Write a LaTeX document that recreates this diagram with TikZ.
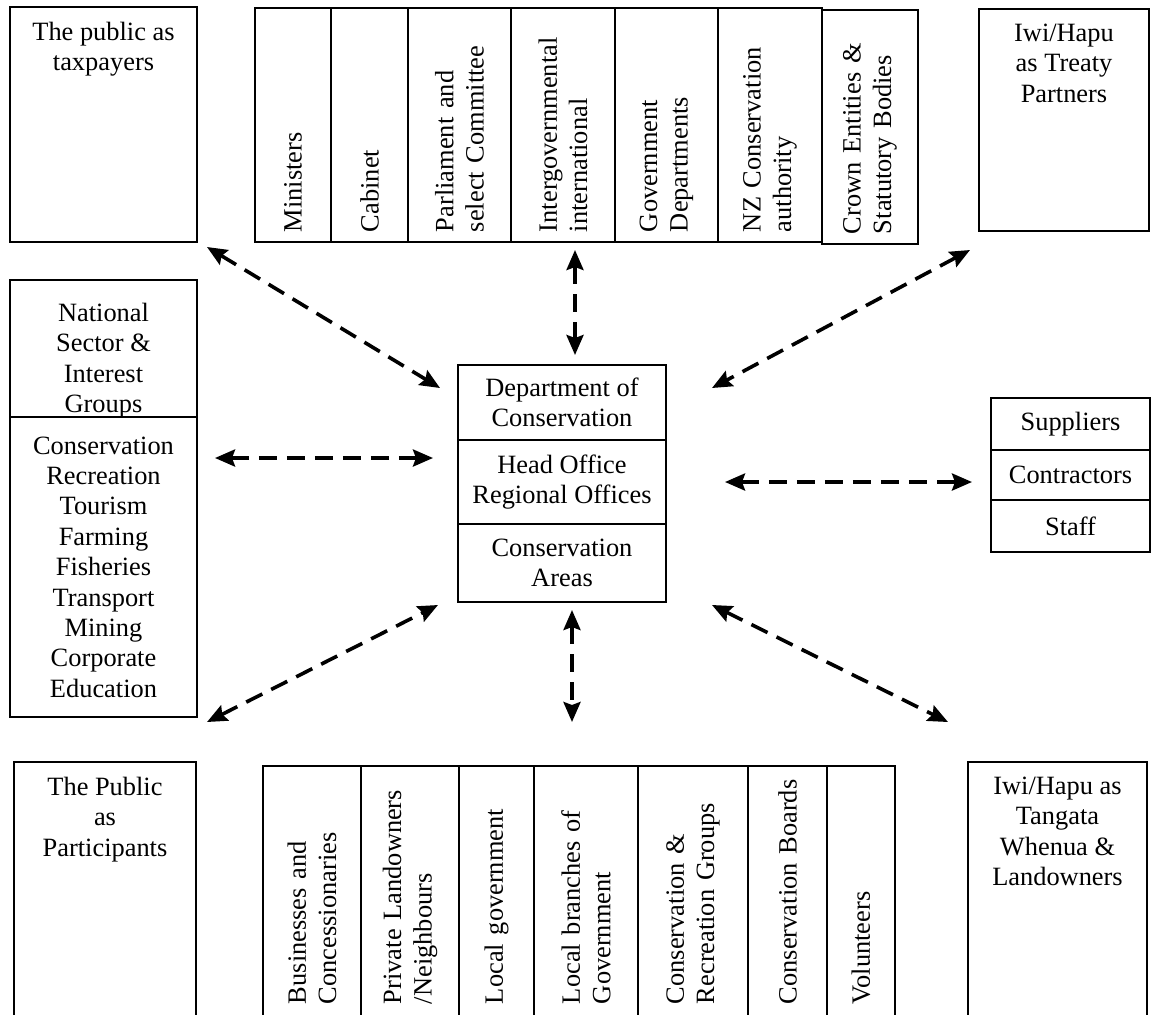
\documentclass[tikz,border=0pt]{standalone}
\usepackage{fontspec}
\setmainfont{Liberation Serif}
\usetikzlibrary{positioning, arrows.meta}

\tikzset{
  box/.style={draw, line width=0.9pt, outer sep=0pt, inner sep=2pt, align=center},
  toplabel/.style={label={[anchor=north, align=center, yshift=-4pt]north:#1}},
  cell/.style={box, rotate=90, align=left, inner xsep=5pt, inner ysep=0pt,
    minimum width=117pt, text width=107pt},
  lowcell/.style={box, rotate=90, align=left, inner xsep=6pt, inner ysep=0pt,
    minimum width=125pt, text width=113pt},
  link/.style={{Stealth[length=10pt,width=8.5pt,inset=1.5pt]}-{Stealth[length=10pt,width=8.5pt,inset=1.5pt]},
    line width=1.8pt, dash pattern=on 9pt off 5pt},
}

\begin{document}
\begin{tikzpicture}[x=0.5pt, y=-0.5pt, font=\fontsize{13.2}{15.2}\selectfont]
\useasboundingbox (0,0) rectangle (1152,1014);

% corners
\node[box, minimum width=93.5pt, minimum height=117.5pt, toplabel={The public as\\taxpayers}] (taxpayers) at (103.5,124.5) {};
\node[box, minimum width=85pt, minimum height=111pt, toplabel={Iwi/Hapu\\as Treaty\\Partners}] (treaty) at (1064,120) {};
\node[box, minimum width=91pt, minimum height=134pt, toplabel={The Public\\as\\Participants}] (participants) at (105,896) {};
\node[box, minimum width=89.5pt, minimum height=134pt, toplabel={Iwi/Hapu as\\Tangata\\Whenua \&\\Landowners}] (whenua) at (1057.5,896) {};

% government strip
\node[cell, minimum height=38pt] (ministers) at (293,125) {Ministers};
\node[cell, minimum height=38.5pt] (cabinet) at (369.5,125) {Cabinet};
\node[cell, minimum height=51.5pt] (parliament) at (459.5,125) {Parliament and\\select Committee};
\node[cell, minimum height=52pt] (intergov) at (563,125) {Intergovernmental\\international};
\node[cell, minimum height=51.5pt] (govdept) at (666.5,125) {Government\\Departments};
\node[cell, minimum height=52pt] (nzca) at (770,125) {NZ Conservation\\authority};
\node[cell, minimum height=48pt] (crown) at (870,127) {Crown Entities \&\\Statutory Bodies};

% sector groups (last line runs into the box below)
\node[box, minimum width=93.5pt, minimum height=68.5pt,
  label={[anchor=north, align=center, yshift=-8pt]north:National\\Sector \&\\Interest\\Groups}] (national) at (103.5,348.5) {};
\node[box, fill=white, minimum width=93.5pt, minimum height=150pt, below=0pt of national] (sectors)
  {Conservation\\Recreation\\Tourism\\Farming\\Fisheries\\Transport\\Mining\\Corporate\\Education};

% department
\node[box, minimum width=104pt, minimum height=37.5pt] (doc) at (562,402.5) {Department of\\Conservation};
\node[box, minimum width=104pt, minimum height=42pt, below=0pt of doc] (offices) {Head Office\\Regional Offices};
\node[box, minimum width=104pt, minimum height=39pt, below=0pt of offices] (areas) {Conservation\\Areas};

% suppliers
\node[box, minimum width=79.5pt, minimum height=26pt] (suppliers) at (1070.5,424) {Suppliers};
\node[box, minimum width=79.5pt, minimum height=25pt, below=0pt of suppliers] (contractors) {Contractors};
\node[box, minimum width=79.5pt, minimum height=26pt, below=0pt of contractors] (staff) {Staff};

% local strip
\node[lowcell, minimum height=49pt] (business) at (312,891) {Businesses and\\Concessionaries};
\node[lowcell, minimum height=49pt] (landowners) at (410,891) {Private Landowners\\/Neighbours};
\node[lowcell, minimum height=37.5pt] (localgov) at (496.5,891) {Local government};
\node[lowcell, minimum height=52pt] (branches) at (586,891) {Local branches of\\Government};
\node[lowcell, minimum height=55pt] (recgroups) at (693,891) {Conservation \&\\Recreation Groups};
\node[lowcell, minimum height=39.5pt] (boards) at (787.5,891) {Conservation Boards};
\node[lowcell, minimum height=34pt] (volunteers) at (861,891) {Volunteers};

% links
\draw[link] ([shift={(10,5)}]taxpayers.south east) -- ([shift={(-18,23)}]doc.north west);
\draw[link] ([shift={(12,8)}]intergov.west) -- ([shift={(13,-10)}]doc.north);
\draw[link] ([shift={(-9,19)}]treaty.south west) -- ([shift={(46,23)}]doc.north east);
\draw[link] ([shift={(18,41)}]sectors.north east) -- ([shift={(-25,-24)}]offices.west);
\draw[link] ([shift={(59,0)}]offices.east) -- ([shift={(-19,7)}]contractors.west);
\draw[link] ([shift={(11,-40)}]participants.north east) -- ([shift={(-20,3)}]areas.south west);
\draw[link] ([shift={(10,8)}]areas.south) -- ([shift={(-14,-44)}]branches.east);
\draw[link] ([shift={(46,3)}]areas.south east) -- ([shift={(-20,-40)}]whenua.north west);
\end{tikzpicture}
\end{document}
